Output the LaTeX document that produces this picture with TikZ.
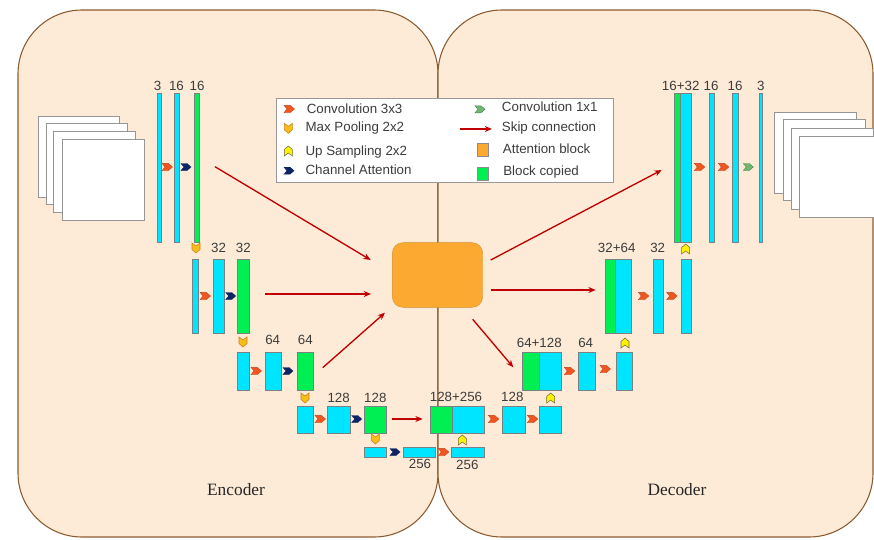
\documentclass[tikz,border=0pt]{standalone}
\usepackage{fontspec}
\setmainfont{Liberation Serif}
\setsansfont{Liberation Sans}
\usetikzlibrary{arrows.meta}

\definecolor{panelfill}{RGB}{253,235,216}
\definecolor{paneldraw}{RGB}{140,92,48}
\definecolor{cyanbar}{RGB}{0,229,255}
\definecolor{greenbar}{RGB}{0,240,84}
\definecolor{bardraw}{RGB}{120,130,130}
\definecolor{attnfill}{RGB}{251,169,48}
\definecolor{skipred}{RGB}{192,0,0}
\definecolor{convfill}{RGB}{240,86,30}
\definecolor{convdraw}{RGB}{190,70,40}
\definecolor{navyfill}{RGB}{12,36,100}
\definecolor{poolfill}{RGB}{245,190,25}
\definecolor{pooldraw}{RGB}{205,130,20}
\definecolor{upfill}{RGB}{255,242,0}
\definecolor{updraw}{RGB}{110,110,60}
\definecolor{onefill}{RGB}{112,182,112}
\definecolor{onedraw}{RGB}{70,130,80}
\definecolor{labelgray}{RGB}{60,60,60}
\definecolor{imgdraw}{RGB}{150,150,150}

% a block of feature maps, given by its corners in pixel units
\newcommand\blk[6]{%
  \node[#6, minimum width={(#4-#2)*0.75pt}, minimum height={(#5-#3)*0.75pt}]
    (#1) at ({(#2+#4)/2},{(#3+#5)/2}) {};}

\tikzset{
  panel/.style={fill=panelfill, draw=paneldraw, line width=0.8pt, rounded corners=48pt},
  barbase/.style={rectangle, inner sep=0pt, outer sep=0pt, draw=bardraw, line width=0.5pt},
  cyanblk/.style={barbase, fill=cyanbar},
  greenblk/.style={barbase, fill=greenbar},
  lbl/.style={font=\sffamily\fontsize{10}{12}\selectfont, text=labelgray, inner sep=0pt},
  legtxt/.style={font=\sffamily\fontsize{10}{12}\selectfont, text=labelgray, inner sep=0pt, anchor=west},
  skip/.style={draw=skipred, line width=1pt, -{Stealth[length=5.5pt,width=4.5pt]}},
  imgsq/.style={fill=white, draw=imgdraw, line width=0.7pt},
  convchev/.pic={\path[fill=convfill, draw=convdraw, line width=0.3pt]
      (-5,-3.7) -- (1.2,-3.7) -- (5.5,0) -- (1.2,3.7) -- (-5,3.7) -- (-2,0) -- cycle;},
  navychev/.pic={\path[fill=navyfill, draw=navyfill, line width=0.3pt]
      (-5,-3.5) -- (1,-3.5) -- (5,0) -- (1,3.5) -- (-5,3.5) -- (-2,0) -- cycle;},
  onechev/.pic={\path[fill=onefill, draw=onedraw, line width=0.3pt]
      (-5,-3.5) -- (1,-3.5) -- (5,0) -- (1,3.5) -- (-5,3.5) -- (-2,0) -- cycle;},
  poolchev/.pic={\path[fill=poolfill, draw=pooldraw, line width=0.4pt]
      (-4,-5) -- (0,-2) -- (4,-5) -- (4,1.5) -- (0,5) -- (-4,1.5) -- cycle;},
  upchev/.pic={\path[fill=upfill, draw=updraw, line width=0.4pt]
      (-4,5) -- (0,2) -- (4,5) -- (4,-1.5) -- (0,-5) -- (-4,-1.5) -- cycle;},
}

\begin{document}
\begin{tikzpicture}[x=0.75pt,y=-0.75pt]
\useasboundingbox (0,0) rectangle (874,539);
\clip (0,0) rectangle (874,539);

% encoder and decoder panels
\path[panel] (18,10) rectangle (438,537);
\path[panel] (438,10) rectangle (873,537);
\node[font=\fontsize{13}{15}\selectfont, text=black!85] (enc) at (236,490) {Encoder};
\node[font=\fontsize{13}{15}\selectfont, text=black!85] (dec) at (677,490) {Decoder};

% input image stack
\draw[imgsq] (38,116) rectangle (119,197);
\draw[imgsq] (46,123) rectangle (127,204);
\draw[imgsq] (53,131) rectangle (135,212);
\draw[imgsq] (62,139) rectangle (144,220);

% output image stack
\draw[imgsq] (774,112) rectangle (856,193);
\draw[imgsq] (783,119) rectangle (865,200);
\draw[imgsq] (791,128) rectangle (873,209);
\draw[imgsq] (799,136) rectangle (881,217);

% attention block
\node[fill=attnfill, draw=attnfill!85!black, line width=0.3pt, rounded corners=8pt,
      minimum width=67.8pt, minimum height=48.5pt, inner sep=0pt] (att) at (437.5,275) {};

% encoder blocks
\blk{e1a}{157}{93}{161}{242}{cyanblk}
\blk{e1b}{174}{93}{179.3}{242}{cyanblk}
\blk{e1c}{194}{93}{199.3}{242}{greenblk}
\blk{e2a}{192.7}{259}{198.3}{333}{cyanblk}
\blk{e2b}{213.3}{259}{224}{333}{cyanblk}
\blk{e2c}{237.7}{259}{249}{333}{greenblk}
\blk{e3a}{237.7}{352}{249}{390}{cyanblk}
\blk{e3b}{265}{352}{281}{390}{cyanblk}
\blk{e3c}{297}{352}{313.7}{390}{greenblk}
\blk{e4a}{297}{406}{313.7}{433}{cyanblk}
\blk{e4b}{327.7}{406}{350}{433}{cyanblk}
\blk{e4c}{364.3}{406}{386.7}{433}{greenblk}
% bottleneck
\blk{b1}{364.3}{447.3}{386.7}{457.3}{cyanblk}
\blk{b2}{403.3}{447.3}{435.7}{457.3}{cyanblk}
\blk{b3}{451.7}{447.3}{484}{457.3}{cyanblk}
% decoder blocks
\blk{d4g}{430}{406}{452.3}{433}{greenblk}
\blk{d4c}{452.3}{406}{484}{433}{cyanblk}
\blk{d4b}{502.7}{406}{525}{433}{cyanblk}
\blk{d4e}{539.3}{406}{561.7}{433}{cyanblk}
\blk{d3g}{522.3}{352}{539.7}{390}{greenblk}
\blk{d3c}{539.7}{352}{561.7}{390}{cyanblk}
\blk{d3b}{578.3}{352}{595.7}{390}{cyanblk}
\blk{d3e}{616.7}{352}{632.7}{390}{cyanblk}
\blk{d2g}{605}{259}{615.7}{333}{greenblk}
\blk{d2c}{615.7}{259}{631.7}{333}{cyanblk}
\blk{d2b}{653}{259}{663.3}{333}{cyanblk}
\blk{d2e}{681}{259}{691.7}{333}{cyanblk}
\blk{d1g}{674.3}{93}{680}{242}{greenblk}
\blk{d1c}{680}{93}{691.7}{242}{cyanblk}
\blk{d1b}{709}{93}{714.3}{242}{cyanblk}
\blk{d1e}{732.7}{93}{738.3}{242}{cyanblk}
\blk{d1f}{759}{93}{762.7}{242}{cyanblk}

% channel counts
\node[lbl] (n1) at (157.5,86) {3};
\node[lbl] (n2) at (176.5,86) {16};
\node[lbl] (n3) at (197,86) {16};
\node[lbl] (n4) at (218.5,248) {32};
\node[lbl] (n5) at (243.3,248) {32};
\node[lbl] (n6) at (272.7,340) {64};
\node[lbl] (n7) at (305.3,340) {64};
\node[lbl] (n8) at (338.7,398) {128};
\node[lbl] (n9) at (375.3,398) {128};
\node[lbl] (n10) at (420,463.5) {256};
\node[lbl] (n11) at (467.3,465) {256};
\node[lbl] (n12) at (456,397) {128+256};
\node[lbl] (n13) at (512.3,397) {128};
\node[lbl] (n14) at (539.3,343) {64+128};
\node[lbl] (n15) at (585.7,343) {64};
\node[lbl] (n16) at (616.7,248) {32+64};
\node[lbl] (n17) at (657.7,248) {32};
\node[lbl] (n18) at (680.7,86) {16+32};
\node[lbl] (n19) at (711,86) {16};
\node[lbl] (n20) at (735,86) {16};
\node[lbl] (n21) at (760.7,86) {3};

% convolution 3x3
\foreach \p in {(167,167),(205,296),(256,371),(320,419),(443.3,452),(493.3,419),
                (532.3,419),(569.3,371),(605,369),(643.3,296),(671.7,296),(699.3,167),(723.3,167)}
  \pic at \p {convchev};
% channel attention
\foreach \p in {(186,167),(230.7,296),(288,371),(356.7,419),(395,452)}
  \pic at \p {navychev};
% max pooling
\foreach \p in {(196,248),(243,342),(305,398),(375.3,439)}
  \pic at \p {poolchev};
% up sampling
\foreach \p in {(462.3,440),(550.7,398),(625,343),(685.7,249)}
  \pic at \p {upchev};
% convolution 1x1
\pic at (748.3,167) {onechev};

% skip connections
\coordinate (s1) at (215,166.7);  \coordinate (t1) at (370.7,260);
\coordinate (s2) at (265,294);    \coordinate (t2) at (371,294);
\coordinate (s3) at (322.7,367.7);\coordinate (t3) at (385,312.7);
\coordinate (s4) at (392,419);    \coordinate (t4) at (422.7,419);
\coordinate (u1) at (490.7,260);  \coordinate (v1) at (661.7,170);
\coordinate (u2) at (490.7,290);  \coordinate (v2) at (595.7,290);
\coordinate (u3) at (472.7,319.3);\coordinate (v3) at (513.3,367.3);
\draw[skip] (s1) -- (t1);
\draw[skip] (s2) -- (t2);
\draw[skip] (s3) -- (t3);
\draw[skip] (s4) -- (t4);
\draw[skip] (u1) -- (v1);
\draw[skip] (u2) -- (v2);
\draw[skip] (u3) -- (v3);

% legend
\node[fill=white, draw=black!40, line width=0.8pt, minimum width=252.5pt,
      minimum height=63.3pt, inner sep=0pt] (leg) at (445,140.5) {};
\pic at (289,109) {convchev};
\node[legtxt] (lt1) at (306.5,109) {Convolution 3x3};
\pic at (288.3,128.3) {poolchev};
\node[legtxt] (lt2) at (305.3,128.3) {Max Pooling 2x2};
\pic at (288.3,151) {upchev};
\node[legtxt] (lt3) at (305.3,152) {Up Sampling 2x2};
\pic at (289,170.7) {navychev};
\node[legtxt] (lt4) at (305.3,170) {Channel Attention};
\pic at (480,109.3) {onechev};
\node[legtxt] (lt5) at (501.7,107) {Convolution 1x1};
\coordinate (la) at (460,129);
\coordinate (lb) at (492,129);
\draw[skip] (la) -- (lb);
\node[legtxt] (lt6) at (501.7,128) {Skip connection};
\node[fill=attnfill, draw=black!45, line width=0.4pt, minimum width=8pt,
      minimum height=9.5pt, inner sep=0pt] (lsq1) at (483,149.7) {};
\node[legtxt] (lt7) at (502.7,149) {Attention block};
\node[fill=greenbar, draw=black!45, line width=0.4pt, minimum width=8pt,
      minimum height=9.5pt, inner sep=0pt] (lsq2) at (483,173.7) {};
\node[legtxt] (lt8) at (503,172) {Block copied};
\end{tikzpicture}
\end{document}
